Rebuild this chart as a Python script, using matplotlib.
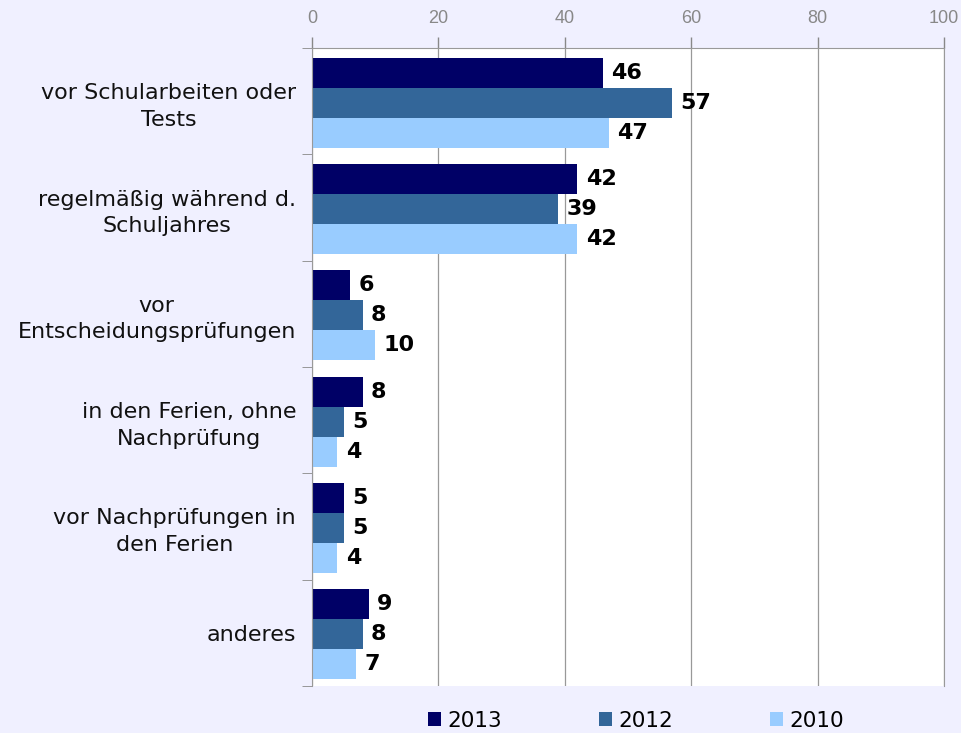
import matplotlib
matplotlib.use("Agg")
import matplotlib.pyplot as plt
import numpy as np
from matplotlib.patches import Patch

categories = [
    "vor Schularbeiten oder\nTests",
    "regelmäßig während d.\nSchuljahres",
    "vor\nEntscheidungsprüfungen",
    "in den Ferien, ohne\nNachprüfung",
    "vor Nachprüfungen in\nden Ferien",
    "anderes",
]
series_names = ["2013", "2012", "2010"]
values_2013 = [46, 42, 6, 8, 5, 9]
values_2012 = [57, 39, 8, 5, 5, 8]
values_2010 = [47, 42, 10, 4, 4, 7]
colors = ["#000066", "#336699", "#99CCFF"]

bg = "#F0F0FF"
fig = plt.figure(figsize=(9.62, 7.33), dpi=100, facecolor=bg)
ax = fig.add_axes([312 / 962, 1 - 686 / 733, 632 / 962, 638 / 733])
ax.set_facecolor("white")

n = len(categories)
y = np.arange(n)
bar_h = 0.282
for i, (name, vals, col) in enumerate(zip(series_names, [values_2013, values_2012, values_2010], colors)):
    pos = y + (i - 1) * bar_h + 0.015
    ax.barh(pos, vals, height=bar_h, color=col, label=name)
    for p, v in zip(pos, vals):
        ax.annotate(str(v), (v, p), xytext=(6, 0), textcoords="offset points",
                    va="center", ha="left", fontsize=16, fontweight="bold",
                    color="black")

ax.set_xlim(0, 100)
ax.set_ylim(n - 0.5, -0.5)
ax.xaxis.tick_top()
ax.set_xticks([0, 20, 40, 60, 80, 100])
ax.tick_params(axis="x", colors="#888888", labelsize=13, length=8, width=1,
               labelcolor="#888888", pad=7)
for lbl in ax.get_xticklabels():
    lbl.set_fontfamily("Liberation Sans")
ax.grid(axis="x", color="#999999", linewidth=0.9)
ax.set_axisbelow(True)

ax.set_yticks(y)
ax.set_yticklabels(categories, fontsize=16, ha="right", multialignment="center",
                   linespacing=1.4, color="#111111")
ax.tick_params(axis="y", length=0, pad=11.5)
ax.set_yticks(np.arange(-0.5, n + 0.5, 1), minor=True)
ax.tick_params(axis="y", which="minor", length=7, color="#888888")

for s in ["top", "left", "right"]:
    ax.spines[s].set_color("#999999")
ax.spines["bottom"].set_visible(False)

handles = [Patch(facecolor=c, label=s) for s, c in zip(series_names, colors)]
fig.legend(handles=handles, loc="center", bbox_to_anchor=(0.661, 0.017), ncol=3,
           frameon=False, fontsize=15.5, handlelength=0.6, handleheight=0.6,
           handletextpad=0.3, columnspacing=4.5)

fig.savefig("out.png", dpi=100, facecolor=bg)
